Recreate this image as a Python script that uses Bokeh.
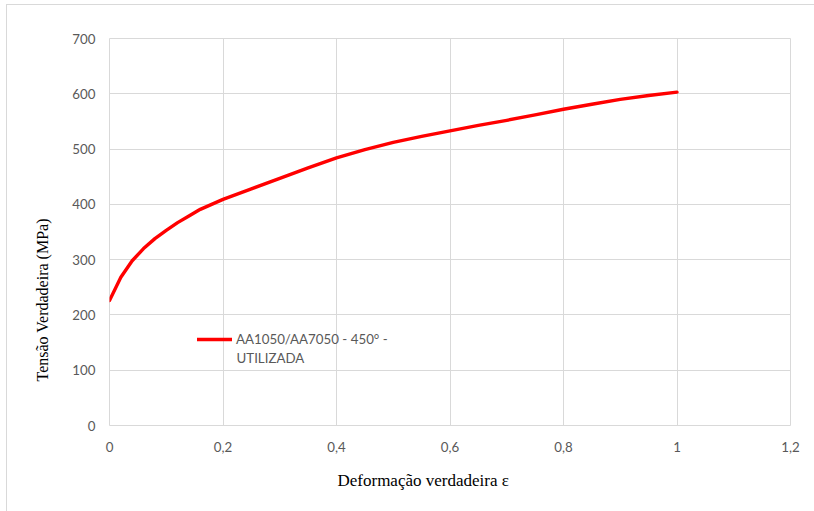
import math
from bokeh.plotting import figure
from bokeh.models import FixedTicker, Label, Legend, LegendItem, Range1d, Title
from bokeh.embed import file_html
from bokeh.resources import INLINE

# ---- data ----
strain = [0.0, 0.02, 0.04, 0.06, 0.08, 0.10, 0.12, 0.14, 0.16, 0.18, 0.20,
          0.25, 0.30, 0.35, 0.40, 0.45, 0.50, 0.55, 0.60, 0.65, 0.70, 0.75,
          0.80, 0.85, 0.90, 0.95, 1.00]
stress = [226, 268, 298, 320, 338, 353, 367, 379, 391, 400, 409,
          428, 447, 466, 484, 499, 512, 523, 533, 543, 552, 562,
          572, 581, 590, 597, 603]
series_name = "AA1050/AA7050 - 450° -"
series_name_2 = "UTILIZADA"
x_ticks = [0, 0.2, 0.4, 0.6, 0.8, 1.0, 1.2]
x_tick_labels = ["0", "0,2", "0,4", "0,6", "0,8", "1", "1,2"]
y_ticks = [0, 100, 200, 300, 400, 500, 600, 700]
x_title = "Deformação verdadeira ε"
y_title = "Tensão Verdadeira (MPa)"

GRID = "#d9d9d9"
TICK_COLOR = "#595959"
TICK_FONT = "Lato"

p = figure(width=808, height=507, output_backend="svg", toolbar_location=None,
           x_range=Range1d(0, 1.2), y_range=Range1d(0, 700),
           min_border_left=102, min_border_right=25, min_border_top=33,
           min_border_bottom=87)
p.styles = {"margin-left": "6px", "margin-top": "4px",
            "border-left": "1px solid #d9d9d9", "border-top": "1px solid #d9d9d9"}
p.background_fill_color = "white"
p.border_fill_color = "white"
p.outline_line_color = GRID

p.xaxis.ticker = FixedTicker(ticks=x_ticks)
p.yaxis.ticker = FixedTicker(ticks=y_ticks)
p.xaxis.major_label_overrides = {t: lab for t, lab in zip(x_ticks, x_tick_labels)}
for ax in (p.xaxis, p.yaxis):
    ax.axis_line_color = None
    ax.major_tick_line_color = None
    ax.minor_tick_line_color = None
    ax.major_label_text_color = TICK_COLOR
    ax.major_label_text_font = TICK_FONT
    ax.major_label_text_font_size = "13.3px"
p.xaxis.major_label_standoff = 10
p.yaxis.major_label_standoff = 8

p.xgrid.ticker = FixedTicker(ticks=x_ticks)
p.ygrid.ticker = FixedTicker(ticks=y_ticks)
p.grid.grid_line_color = GRID
p.grid.grid_line_width = 1

r = p.line(strain, stress, line_color="#ff0000", line_width=3.4,
           line_cap="round", line_join="round")

legend = Legend(items=[LegendItem(label=series_name, renderers=[r])],
                location=(88, 76), padding=0, margin=0, border_line_color=None,
                background_fill_alpha=0, glyph_width=35, glyph_height=20,
                label_height=20, label_standoff=4,
                label_text_font=TICK_FONT, label_text_font_size="13.3px",
                label_text_color=TICK_COLOR)
p.add_layout(legend)
p.add_layout(Label(x=127, y=68, x_units="screen", y_units="screen",
                   text=series_name_2, text_font=TICK_FONT, text_font_size="13.3px",
                   text_color=TICK_COLOR, text_baseline="middle", text_align="left"))

p.add_layout(Title(text=x_title, align="left", offset=228, standoff=28,
                   text_font="Liberation Serif", text_font_size="17px",
                   text_font_style="normal", text_color="#000000"), "below")
p.add_layout(Title(text=y_title, align="left", offset=44, standoff=38,
                   text_font="Liberation Serif", text_font_size="16px",
                   text_font_style="normal", text_color="#000000"), "left")

open("out.html", "w").write(file_html(p, INLINE))
